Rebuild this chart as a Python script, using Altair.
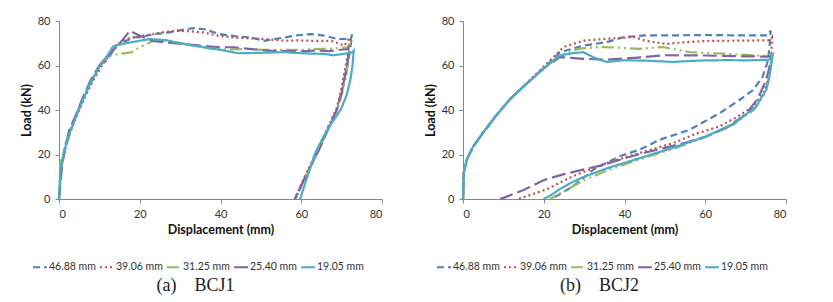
import altair as alt
import pandas as pd

series = ["46.88 mm", "39.06 mm", "31.25 mm", "25.40 mm", "19.05 mm"]
colors = ["#4F81BD", "#C0504D", "#9BBB59", "#8064A2", "#4BACC6"]
dashes = [[7, 4], [2, 3], [12, 4, 2, 4, 2, 4], [14, 5], [1, 0]]
ticks = [0, 20, 40, 60, 80]

# ---------------- BCJ1 ----------------
bcj1_4688_x = [0, 0.5, 1.5, 3, 5, 7, 9, 10.4, 12, 14.1, 16, 18.3, 20.5, 23.3, 26, 29, 33.2, 36, 39.8, 43.5, 47.5, 50.9, 53, 55.9, 59, 62.4, 65.5, 69, 72.3, 72.6, 72.1, 71.5, 70.4, 69, 66.5, 64, 61.3, 58.5]
bcj1_4688_y = [0, 14, 24, 32, 41, 49, 56, 60.7, 62.5, 68.9, 70.5, 72.6, 72.8, 74.1, 74.5, 75.5, 76.8, 76.3, 74.1, 73.2, 72.6, 71.1, 71.8, 72.6, 73.6, 74.1, 73.5, 71.9, 71.9, 74, 67, 61, 51, 41, 31, 21, 11, 0]

bcj1_3906_x = [0, 0.5, 1.5, 3, 5, 7, 9, 11, 12.5, 14.1, 16.6, 20, 23.3, 26, 29, 32, 35.6, 39.4, 43, 46, 50.9, 55.9, 59, 62.4, 67.4, 70.7, 72, 71.6, 71, 70, 68.8, 66.3, 63.8, 61.1, 58.4]
bcj1_3906_y = [0, 13, 23, 31, 40, 48, 55, 61, 64.5, 68.9, 71.9, 73.2, 74.1, 75, 75.6, 75.4, 74.9, 73.4, 72.6, 72.3, 71.9, 71.1, 71.3, 71.1, 71.1, 68.9, 72.6, 66, 60, 50, 41, 31, 21, 11, 0]

bcj1_3125_x = [0, 0.3, 1, 2.5, 4, 6, 8, 10.9, 12.1, 15, 17.9, 20, 23.3, 27, 32, 38.1, 42, 46.8, 51, 55.9, 60, 63.2, 67, 71.5, 72, 71.7, 71.2, 70.2, 68.9, 66.4, 63.9, 61.2, 58.5]
bcj1_3125_y = [0, 16, 20, 28, 36, 45, 53, 62.2, 64.4, 65.2, 65.9, 68.2, 71, 71, 69.5, 67.4, 67.2, 67.4, 67, 67, 67, 67.4, 67.5, 68.2, 69.5, 63, 56, 48, 40, 30, 20, 10, 0]

bcj1_2540_x = [0, 0.6, 0.8, 1.5, 2.5, 4, 6, 8, 10, 12, 14, 16, 17.5, 20, 23.3, 27, 31.5, 35, 39.8, 43.5, 47, 51.7, 56, 60, 63.2, 67, 71.5, 72, 71.6, 71, 70, 68.8, 66.3, 63.8, 61, 58.4]
bcj1_2540_y = [0, 12, 16, 22, 31, 37, 46, 54, 60, 64, 68, 72, 75.6, 73.4, 71, 70.3, 69.6, 69, 68.2, 68.2, 67.5, 66.7, 66.5, 66.4, 66.7, 66.5, 67.4, 68.9, 63, 57, 48, 40, 30, 20, 10, 0]

bcj1_1905_x = [0, 0.4, 1.2, 2.5, 4, 6, 8, 10, 12, 13.4, 16, 19, 22.4, 26.5, 30, 33.2, 38, 43, 44.3, 50, 55.9, 60, 65.8, 68, 70, 72.6, 73, 72.7, 72.2, 71.3, 69.9, 67.5, 65.5, 63.3, 61.5, 59.7]
bcj1_1905_y = [0, 14, 21, 29, 36, 45, 53, 59.5, 64.5, 68.6, 69.8, 70.8, 71.9, 71.4, 70, 68.9, 67.7, 66, 65.5, 65.7, 66, 65.5, 65.2, 64.6, 65.1, 65.8, 66.6, 60, 54, 47, 40.6, 34, 28, 20, 10, 0]

# ---------------- BCJ2 ----------------
bcj2_4688_x = [0, 0.2, 1, 2.5, 4.9, 8, 11.7, 15.8, 19.9, 24, 30, 35.6, 39.7, 45, 50, 60, 70, 75.5, 76.2, 76, 75.5, 74.2, 71.8, 68.5, 63.5, 56.1, 48.7, 43.8, 38.8, 32.3, 27.3, 23.2, 21.6]
bcj2_4688_y = [0, 12, 18, 23.5, 29.6, 37, 45, 51.9, 58.6, 66, 69, 70.5, 72.7, 73.5, 73.5, 73.7, 73.5, 73.5, 75.7, 70, 62, 54.9, 48.9, 44.5, 38.5, 31.1, 26.6, 22.2, 19.2, 13.2, 5.8, 1.3, 0]

bcj2_3906_x = [0, 0.2, 1, 2.5, 5, 8, 12, 16, 20, 22, 24.9, 30, 35.6, 40, 42.1, 45, 50.4, 55.3, 60, 70, 76, 76.5, 76.3, 75.8, 74.5, 71.8, 68, 63.5, 58, 52, 43.8, 35.6, 27.3, 20.7, 13.7]
bcj2_3906_y = [0, 12, 18, 23.5, 30, 37.2, 45.5, 52.5, 59.5, 63, 68.3, 71.2, 72, 72.5, 73, 71.2, 69.7, 70.5, 71, 71.2, 71.3, 72.5, 62, 55, 48, 41.5, 37, 32.6, 29.5, 25.1, 20.7, 16.2, 10.3, 4.3, 0]

bcj2_3125_x = [0, 0.2, 1, 2.5, 4.9, 8, 11.7, 15.8, 19.9, 24, 27, 30, 35, 43.8, 49.5, 56.1, 64.4, 72.6, 75.9, 76.6, 76.5, 76, 75, 72, 67, 60, 52, 44, 36, 30, 25, 21.5]
bcj2_3125_y = [0, 12, 18, 23.5, 29.6, 37, 45, 51.9, 58.6, 64.5, 66.8, 67.8, 68.3, 67.5, 68.3, 66, 65.3, 64.5, 64.5, 65, 64.5, 56, 48, 40, 33.5, 27.8, 22.5, 18, 13, 8.5, 3.5, 0]

bcj2_2540_x = [0, 0.2, 1, 2.5, 4.9, 8, 11.7, 15.8, 19.9, 24, 30, 35.6, 45, 50, 60, 70, 75.5, 76.2, 76, 75, 73, 70, 65, 60, 55, 50, 45, 40, 35, 30, 25, 20, 15, 10, 9.2]
bcj2_2540_y = [0, 12, 18, 23.5, 29.6, 37, 45, 51.9, 58.6, 63.8, 63, 62.6, 63.8, 64.6, 64.5, 64.1, 64, 64, 60, 53, 45, 38, 31.8, 28, 25.3, 23, 20.8, 18.3, 15.5, 13.3, 11.2, 8.5, 4, 0.5, 0]

bcj2_1905_x = [0, 0.2, 1, 2.5, 4.9, 8, 11.7, 15.8, 19.9, 24, 27, 29.8, 32.5, 35.6, 39.7, 45, 52, 56, 60, 66, 70, 75.9, 76.7, 76.5, 75.9, 75, 72.6, 67.2, 60, 52, 44, 36, 30, 27, 24, 21.6, 19.9]
bcj2_1905_y = [0, 12, 18, 23.5, 29.6, 37, 45, 51.9, 58.6, 64.5, 65.5, 66, 63.5, 61.6, 62.3, 62.2, 61.6, 62, 62.3, 62.4, 62.3, 62.6, 64.5, 62, 55, 48.9, 41.5, 34, 28, 23, 18.5, 14, 10, 7.5, 4.5, 1.5, 0]


def frame(items):
    rows = []
    for name, xs, ys in items:
        for i, (x, y) in enumerate(zip(xs, ys)):
            rows.append({"series": name, "i": i, "x": x, "y": y})
    return pd.DataFrame(rows)


df1 = frame([
    (series[0], bcj1_4688_x, bcj1_4688_y),
    (series[1], bcj1_3906_x, bcj1_3906_y),
    (series[2], bcj1_3125_x, bcj1_3125_y),
    (series[3], bcj1_2540_x, bcj1_2540_y),
    (series[4], bcj1_1905_x, bcj1_1905_y),
])
df2 = frame([
    (series[0], bcj2_4688_x, bcj2_4688_y),
    (series[1], bcj2_3906_x, bcj2_3906_y),
    (series[2], bcj2_3125_x, bcj2_3125_y),
    (series[3], bcj2_2540_x, bcj2_2540_y),
    (series[4], bcj2_1905_x, bcj2_1905_y),
])

NB = "\u00a0"


def legend():
    return alt.Legend(
        title=None, orient="none", legendX=-27, legendY=238,
        direction="horizontal", columns=5,
        symbolType="stroke", symbolSize=196, symbolStrokeWidth=2,
        labelFont="Lato", labelFontSize=10.5, labelColor="#333", labelLimit=52,
        columnPadding=0, labelOffset=1, padding=0,
    )


def panel(df, caption):
    return alt.Chart(df).mark_line(strokeWidth=2.2).encode(
        x=alt.X("x:Q", scale=alt.Scale(domain=[0, 80]),
                axis=alt.Axis(values=ticks, title="Displacement (mm)")),
        y=alt.Y("y:Q", scale=alt.Scale(domain=[0, 80]),
                axis=alt.Axis(values=ticks, title="Load (kN)")),
        color=alt.Color("series:N",
                        scale=alt.Scale(domain=series, range=colors), legend=legend()),
        strokeDash=alt.StrokeDash("series:N",
                                  scale=alt.Scale(domain=series, range=dashes), legend=legend()),
        order="i:Q",
    ).properties(
        width=323, height=178,
        title=alt.TitleParams(caption, orient="bottom", anchor="middle",
                              font="Liberation Serif", fontSize=18, fontWeight="normal",
                              color="#222", offset=4, dx=-25),
    )


chart = alt.hconcat(
    panel(df1, "(a)" + NB * 4 + "BCJ1"),
    panel(df2, "(b)" + NB * 4 + "BCJ2"),
    spacing=81, bounds="flush",
).resolve_scale(color="independent", strokeDash="independent").resolve_legend(
    color="independent", strokeDash="independent"
).properties(
    padding={"left": 12, "top": 7, "right": 0, "bottom": 0}
).configure_view(stroke=None).configure_axis(
    grid=False, domainColor="#888", tickColor="#888", tickSize=4,
    labelFont="Lato", labelFontSize=11, labelColor="#333", labelPadding=5,
    titleFont="Lato", titleFontSize=12.5, titleFontWeight="bold", titleColor="#111",
    titlePadding=4,
)

chart.save("out.html", embed_options={"renderer": "svg", "actions": False})
